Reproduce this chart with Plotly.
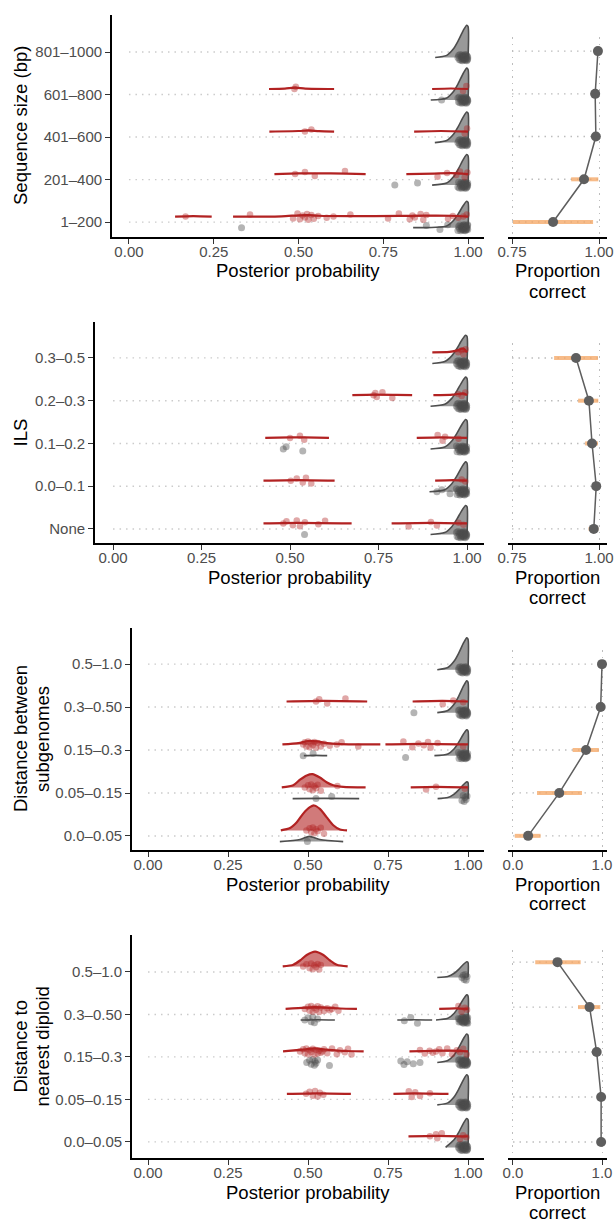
import plotly.graph_objects as go

W, H = 615, 1222

# ------------------------------------------------------------------ data
seq_cats = ["1–200", "201–400", "401–600", "601–800", "801–1000"]
ils_cats = ["None", "0.0–0.1", "0.1–0.2", "0.2–0.3", "0.3–0.5"]
sub_cats = ["0.0–0.05", "0.05–0.15", "0.15–0.3", "0.3–0.50", "0.5–1.0"]
dip_cats = ["0.0–0.05", "0.05–0.15", "0.15–0.3", "0.3–0.50", "0.5–1.0"]

# proportion correct (bottom category first)
seq_prop = [0.868, 0.957, 0.991, 0.989, 0.997]
seq_lo = [0.753, 0.920, 0.986, 0.982, 0.995]
seq_hi = [0.983, 0.998, 0.996, 0.997, 0.999]

ils_prop = [0.985, 0.992, 0.980, 0.971, 0.934]
ils_lo = [0.970, 0.988, 0.960, 0.940, 0.871]
ils_hi = [0.998, 0.996, 0.997, 0.998, 0.997]

sub_prop = [0.17, 0.52, 0.82, 0.985, 1.0]
sub_lo = [0.02, 0.27, 0.67, 0.975, 0.995]
sub_hi = [0.31, 0.775, 0.965, 0.995, 1.0]

dip_prop = [0.99, 0.99, 0.94, 0.86, 0.50]
dip_lo = [0.985, 0.985, 0.92, 0.73, 0.25]
dip_hi = [0.995, 0.995, 0.97, 0.98, 0.76]

# typical shape of the grey density piled up against 1.0 (normalised height)
tail_x = [0.937, 0.957, 0.971, 0.986, 0.996, 1.0, 1.0]
tail_h = [0.067, 0.27, 0.52, 0.84, 1.0, 0.96, 0.0]

# dense cluster of grey posterior values close to 1
near_one = [0.970, 0.972, 0.974, 0.976, 0.978, 0.980, 0.981, 0.982, 0.983, 0.984,
            0.985, 0.986, 0.987, 0.988, 0.989, 0.990, 0.991, 0.992, 0.993, 0.994,
            0.995, 0.996, 0.997, 0.998, 0.999, 0.999]
few_near_one = [0.981, 0.985, 0.988, 0.991, 0.994, 0.997]

# grey tail density per category: (start, peak height)
seq_tails = {5: (0.903, 0.76), 4: (0.890, 0.75), 3: (0.902, 0.72), 2: (0.894, 0.72), 1: (0.838, 0.62)}
ils_tails = {5: (0.902, 0.66), 4: (0.897, 0.68), 3: (0.897, 0.69), 2: (0.894, 0.70), 1: (0.897, 0.68)}
sub_tails = {5: (0.904, 0.74), 4: (0.904, 0.74), 3: (0.895, 0.60), 2: (0.905, 0.39)}
dip_tails = {5: (0.904, 0.37), 4: (0.900, 0.59), 3: (0.904, 0.67), 2: (0.904, 0.71), 1: (0.930, 0.68)}

# other density ridges: (category, group, x, height)
seq_ridges = [
    (4, "r", [0.413, 0.46, 0.49, 0.52, 0.605], [0, 0.01, 0.03, 0.01, 0]),
    (4, "r", [0.894, 0.95, 1.0], [0, 0.012, 0]),
    (3, "r", [0.414, 0.50, 0.53, 0.56, 0.605], [0, 0.012, 0.025, 0.01, 0]),
    (3, "r", [0.841, 0.92, 1.0], [0, 0.012, 0]),
    (2, "r", [0.429, 0.50, 0.55, 0.64, 0.698], [0, 0.015, 0.018, 0.01, 0]),
    (2, "r", [0.818, 0.90, 0.95, 1.0], [0, 0.012, 0.02, 0]),
    (1, "r", [0.136, 0.19, 0.244], [0, 0.012, 0]),
    (1, "r", [0.307, 0.45, 0.50, 0.53, 0.56, 0.65, 0.80, 0.87, 0.95, 1.0],
     [0, 0.006, 0.03, 0.035, 0.02, 0.01, 0.015, 0.022, 0.02, 0]),
]
ils_ridges = [
    (5, "r", [0.902, 0.95, 0.97, 0.99, 1.0], [0, 0.01, 0.04, 0.09, 0]),
    (4, "r", [0.676, 0.74, 0.80, 0.845], [0, 0.012, 0.006, 0]),
    (4, "r", [0.905, 0.96, 0.99, 1.0], [0, 0.012, 0.04, 0]),
    (3, "r", [0.430, 0.50, 0.54, 0.610], [0, 0.012, 0.012, 0]),
    (3, "r", [0.858, 0.93, 1.0], [0, 0.012, 0]),
    (2, "r", [0.425, 0.52, 0.626], [0, 0.012, 0]),
    (2, "r", [0.910, 0.96, 1.0], [0, 0.012, 0]),
    (1, "r", [0.425, 0.52, 0.674], [0, 0.012, 0]),
    (1, "r", [0.787, 0.90, 1.0], [0, 0.012, 0]),
]
sub_ridges = [
    (4, "r", [0.433, 0.55, 0.685], [0, 0.012, 0]),
    (4, "r", [0.827, 0.92, 1.0], [0, 0.012, 0]),
    (3, "g", [0.487, 0.52, 0.560], [0, 0.006, 0]),
    (3, "r", [0.420, 0.47, 0.50, 0.53, 0.56, 0.60, 0.726], [0, 0.03, 0.08, 0.07, 0.03, 0.01, 0]),
    (3, "r", [0.742, 0.85, 1.0], [0, 0.012, 0]),
    (2, "g", [0.452, 0.55, 0.660], [0, 0.006, 0]),
    (2, "r", [0.418, 0.454, 0.475, 0.496, 0.514, 0.537, 0.558, 0.579, 0.61, 0.68],
     [0, 0.05, 0.18, 0.28, 0.31, 0.23, 0.12, 0.05, 0.015, 0]),
    (2, "r", [0.821, 0.90, 1.0], [0, 0.012, 0]),
    (1, "g", [0.412, 0.475, 0.504, 0.537, 0.610], [0, 0.05, 0.12, 0.05, 0]),
    (1, "r", [0.415, 0.444, 0.465, 0.485, 0.506, 0.519, 0.537, 0.558, 0.579, 0.60, 0.622],
     [0, 0.055, 0.19, 0.39, 0.54, 0.58, 0.50, 0.31, 0.12, 0.02, 0]),
]
dip_ridges = [
    (5, "r", [0.421, 0.454, 0.475, 0.496, 0.522, 0.548, 0.569, 0.59, 0.624],
     [0, 0.04, 0.14, 0.27, 0.35, 0.27, 0.14, 0.04, 0]),
    (4, "g", [0.477, 0.53, 0.584], [0, 0.006, 0]),
    (4, "g", [0.779, 0.83, 0.888], [0, 0.006, 0]),
    (4, "r", [0.430, 0.49, 0.52, 0.56, 0.60, 0.653], [0, 0.03, 0.04, 0.03, 0.01, 0]),
    (4, "r", [0.910, 0.96, 1.0], [0, 0.012, 0]),
    (3, "r", [0.422, 0.48, 0.52, 0.56, 0.60, 0.674], [0, 0.04, 0.07, 0.04, 0.015, 0]),
    (3, "r", [0.817, 0.90, 0.95, 1.0], [0, 0.015, 0.02, 0]),
    (2, "r", [0.434, 0.53, 0.634], [0, 0.012, 0]),
    (2, "r", [0.767, 0.83, 0.939], [0, 0.012, 0]),
    (1, "r", [0.814, 0.90, 1.0], [0, 0.012, 0]),
]

# observed posterior probabilities (points)
seq_red = {
    4: [0.488, 0.492, 0.985, 0.995],
    3: [0.519, 0.538, 0.99, 0.997],
    2: [0.49, 0.519, 0.548, 0.637, 0.91, 0.938, 0.965, 0.976, 0.99, 0.998],
    1: [0.167, 0.357, 0.484, 0.497, 0.504, 0.512, 0.519, 0.525, 0.529, 0.538, 0.545,
        0.558, 0.583, 0.603, 0.653, 0.764, 0.796, 0.828, 0.836, 0.843, 0.86, 0.868,
        0.877, 0.941, 0.955, 0.971, 0.986, 0.996],
}
seq_grey = {5: near_one, 4: [0.922] + near_one, 3: near_one,
            2: [0.784, 0.851] + near_one, 1: [0.332, 0.877, 0.917, 0.94] + near_one}

ils_red = {
    5: [0.975, 0.985, 0.99, 0.996],
    4: [0.736, 0.741, 0.745, 0.761, 0.789, 0.975, 0.985, 0.995],
    3: [0.50, 0.528, 0.54, 0.917, 0.931, 0.938, 0.976],
    2: [0.502, 0.519, 0.536, 0.545, 0.56, 0.985, 0.995],
    1: [0.481, 0.49, 0.508, 0.519, 0.528, 0.542, 0.58, 0.599, 0.835, 0.898, 0.915, 0.976, 0.99],
}
ils_grey = {5: near_one, 4: near_one, 3: [0.481, 0.489, 0.536] + near_one,
            2: [0.915, 0.929, 0.952] + near_one, 1: [0.541] + near_one}

sub_red = {
    4: [0.525, 0.535, 0.56, 0.617, 0.921, 0.954, 0.985],
    3: [0.485, 0.49, 0.495, 0.5, 0.505, 0.51, 0.515, 0.52, 0.525, 0.53, 0.54, 0.55,
        0.568, 0.59, 0.605, 0.657, 0.798, 0.826, 0.845, 0.862, 0.875, 0.883, 0.905, 0.985],
    2: [0.49, 0.5, 0.505, 0.51, 0.515, 0.52, 0.525, 0.53, 0.54, 0.592, 0.869, 0.9, 0.99],
    1: [0.495, 0.505, 0.51, 0.515, 0.52, 0.525, 0.53, 0.54, 0.55],
}
sub_grey = {5: near_one, 4: [0.831] + near_one, 3: [0.485, 0.516, 0.805] + near_one,
            2: [0.525, 0.574] + few_near_one, 1: [0.498]}

dip_red = {
    5: [0.485, 0.495, 0.505, 0.51, 0.515, 0.52, 0.525, 0.53, 0.535, 0.54],
    4: [0.49, 0.5, 0.505, 0.51, 0.515, 0.52, 0.525, 0.53, 0.535, 0.54, 0.55, 0.56,
        0.568, 0.575, 0.585, 0.595, 0.97, 0.98, 0.99, 0.997],
    3: [0.475, 0.485, 0.49, 0.495, 0.5, 0.505, 0.51, 0.515, 0.52, 0.525, 0.53, 0.535,
        0.54, 0.545, 0.55, 0.56, 0.575, 0.59, 0.6, 0.615, 0.625, 0.636, 0.85, 0.865,
        0.88, 0.89, 0.9, 0.91, 0.92, 0.935, 0.95, 0.965, 0.975, 0.985, 0.996],
    2: [0.494, 0.505, 0.515, 0.522, 0.53, 0.537, 0.548, 0.815, 0.824, 0.835, 0.85, 0.881],
    1: [0.881, 0.9, 0.904, 0.918, 0.975, 0.985, 0.995],
}
dip_grey = {5: few_near_one,
            4: [0.49, 0.5, 0.51, 0.515, 0.52, 0.53, 0.801, 0.821, 0.842] + near_one,
            3: [0.496, 0.505, 0.51, 0.515, 0.52, 0.522, 0.525, 0.53, 0.567,
                0.79, 0.8, 0.81, 0.829, 0.85] + near_one,
            2: near_one, 1: near_one}

# ------------------------------------------------------------------ style
RED = "#B22222"
RED_FILL = "rgba(178,34,34,0.6)"
RED_PT = "rgba(178,34,34,0.40)"
GREY_LINE = "#4D4D4D"
GREY_FILL = "#999999"
GREY_PT = "rgba(77,77,77,0.42)"
ORANGE = "rgba(244,164,96,0.75)"
PT_DARK = "#5E5E5E"
FONT = "Liberation Sans, Arial, sans-serif"
JIT = [0.0, 0.05, -0.045, 0.07, -0.065, 0.025, -0.02, 0.06, -0.075, 0.035, -0.05, 0.015, -0.03]
RED_OFF, GREY_OFF = 0.13, -0.13

panels = [
    dict(cats=seq_cats, ridges=seq_ridges, tails=seq_tails, red=seq_red, grey=seq_grey,
         prop=seq_prop, lo=seq_lo, hi=seq_hi, ytitle=["Sequence size (bp)"],
         L=(112, 484, 15, 237), R=(508, 607, 37, 237),
         lx=[-0.05, 1.047], ly=[0.65, 5.87], rx=[0.7385, 1.023], ry=[0.65, 5.33],
         rt=[0.75, 1.0], rtt=["0.75", "1.00"]),
    dict(cats=ils_cats, ridges=ils_ridges, tails=ils_tails, red=ils_red, grey=ils_grey,
         prop=ils_prop, lo=ils_lo, hi=ils_hi, ytitle=["ILS"],
         L=(95, 484, 322, 543), R=(508, 607, 343, 543),
         lx=[-0.051, 1.048], ly=[0.672, 5.84], rx=[0.7385, 1.023], ry=[0.67, 5.35],
         rt=[0.75, 1.0], rtt=["0.75", "1.00"]),
    dict(cats=sub_cats, ridges=sub_ridges, tails=sub_tails, red=sub_red, grey=sub_grey,
         prop=sub_prop, lo=sub_lo, hi=sub_hi, ytitle=["Distance between", "subgenomes"],
         L=(132, 484, 628, 850), R=(508, 607, 650, 850),
         lx=[-0.05, 1.05], ly=[0.674, 5.84], rx=[-0.056, 1.056], ry=[0.67, 5.33],
         rt=[0.0, 1.0], rtt=["0.0", "1.0"]),
    dict(cats=dip_cats, ridges=dip_ridges, tails=dip_tails, red=dip_red, grey=dip_grey,
         prop=dip_prop, lo=dip_lo, hi=dip_hi, ytitle=["Distance to", "nearest diploid"],
         L=(132, 484, 935, 1158), R=(508, 607, 950, 1158),
         lx=[-0.05, 1.05], ly=[0.62, 5.87], rx=[-0.056, 1.056], ry=[0.644, 5.27],
         rt=[0.0, 1.0], rtt=["0.0", "1.0"]),
]

fig = go.Figure()
layout = {}
annotations = []


def ax_names(i):
    s = "" if i == 1 else str(i)
    return "x" + s, "y" + s, "xaxis" + s, "yaxis" + s


def add_ridge(xs, hs, base, kind, xa, ya):
    fig.add_trace(go.Scatter(x=[xs[0], xs[-1]], y=[base, base], xaxis=xa, yaxis=ya,
                             mode="lines", line=dict(width=0, color="rgba(0,0,0,0)"),
                             hoverinfo="skip", showlegend=False))
    if kind == "r":
        col, fcol, w = RED, RED_FILL, 2.2
    else:
        col, fcol, w = GREY_LINE, GREY_FILL, 1.6
    fig.add_trace(go.Scatter(x=xs, y=[base + h for h in hs], xaxis=xa, yaxis=ya,
                             mode="lines", fill="tonexty", fillcolor=fcol,
                             line=dict(color=col, width=w, shape="spline", smoothing=0.7),
                             hoverinfo="skip", showlegend=False))


def add_points(pts, off, color, xa, ya, size=6.5):
    xs, ys = [], []
    for cat, vals in pts.items():
        for i, v in enumerate(vals):
            xs.append(v)
            ys.append(cat + off + JIT[i % len(JIT)])
    fig.add_trace(go.Scatter(x=xs, y=ys, xaxis=xa, yaxis=ya, mode="markers",
                             marker=dict(size=size, color=color, line=dict(width=0)),
                             hoverinfo="skip", showlegend=False))


def px_x(px):
    return px / W


def px_y(py):
    return 1 - py / H


for p, P in enumerate(panels):
    xa, ya, xk, yk = ax_names(2 * p + 1)
    rxa, rya, rxk, ryk = ax_names(2 * p + 2)
    cats = list(range(1, len(P["cats"]) + 1))

    # --- left panel: dotted guide lines from 0 to 1
    gx, gy = [], []
    for c in cats:
        gx += [0, 1, None]
        gy += [c, c, None]
    fig.add_trace(go.Scatter(x=gx, y=gy, xaxis=xa, yaxis=ya, mode="lines",
                             line=dict(color="#CBCBCB", width=1.4, dash="1.5px,5px"),
                             hoverinfo="skip", showlegend=False))
    for c, (start, peak) in P["tails"].items():
        add_ridge([start] + tail_x, [0] + [peak * v for v in tail_h], c + GREY_OFF, "g", xa, ya)
    for (c, kind, xs, hs) in P["ridges"]:
        if kind == "g":
            add_ridge(xs, hs, c + GREY_OFF, "g", xa, ya)
    add_points(P["grey"], GREY_OFF, GREY_PT, xa, ya, size=7)
    for (c, kind, xs, hs) in P["ridges"]:
        if kind == "r":
            add_ridge(xs, hs, c + RED_OFF, "r", xa, ya)
    add_points(P["red"], RED_OFF, RED_PT, xa, ya)

    # --- right panel
    hx, hy = [], []
    for c in cats:
        hx += [P["rt"][0], P["rt"][-1], None]
        hy += [c, c, None]
    fig.add_trace(go.Scatter(x=hx, y=hy, xaxis=rxa, yaxis=rya, mode="lines",
                             line=dict(color="#BDBDBD", width=1.4, dash="1.5px,5px"),
                             hoverinfo="skip", showlegend=False))
    fig.add_trace(go.Scatter(
        x=P["prop"], y=cats, xaxis=rxa, yaxis=rya, mode="lines+markers",
        line=dict(color=PT_DARK, width=1.5),
        marker=dict(size=10, color=PT_DARK),
        error_x=dict(type="data", symmetric=False,
                     array=[h - v for h, v in zip(P["hi"], P["prop"])],
                     arrayminus=[v - l for v, l in zip(P["prop"], P["lo"])],
                     color=ORANGE, thickness=4, width=0),
        hoverinfo="skip", showlegend=False))

    L0, L1, T, B = P["L"]
    R0, R1, RT, RB = P["R"]
    tickfont = dict(family=FONT, size=15, color="#4D4D4D")
    common = dict(automargin=False, zeroline=False)
    layout[xk] = dict(domain=[px_x(L0), px_x(L1)], range=P["lx"], anchor=ya,
                      tickvals=[0, 0.25, 0.5, 0.75, 1.0],
                      ticktext=["0.00", "0.25", "0.50", "0.75", "1.00"],
                      showline=True, linecolor="black", linewidth=1.8,
                      ticks="outside", ticklen=5, tickwidth=1.2, tickcolor="#333333",
                      ticklabelstandoff=-5,
                      tickfont=tickfont, showgrid=False, **common)
    layout[yk] = dict(domain=[px_y(B), px_y(T)], range=P["ly"], anchor=xa,
                      tickvals=cats, ticktext=P["cats"],
                      showline=True, linecolor="black", linewidth=1.8,
                      ticks="outside", ticklen=5, tickwidth=1.2, tickcolor="#333333",
                      tickfont=tickfont, showgrid=False, **common)
    layout[rxk] = dict(domain=[px_x(R0), px_x(R1)], range=P["rx"], anchor=rya,
                       tickvals=P["rt"], ticktext=P["rtt"],
                       showline=True, linecolor="black", linewidth=1.8,
                       ticks="outside", ticklen=5, tickwidth=1.2, tickcolor="#333333",
                       ticklabelstandoff=-5,
                       tickfont=tickfont, showgrid=True, gridcolor="#BDBDBD",
                       gridwidth=1.4, griddash="1.5px,5px", **common)
    layout[ryk] = dict(domain=[px_y(RB), px_y(RT)], range=P["ry"], anchor=rxa,
                       tickvals=cats, showticklabels=False, ticks="",
                       showline=False, showgrid=False, **common)

    tfont = dict(family=FONT, size=18.5, color="black")
    annotations.append(dict(text="Posterior probability", x=px_x((L0 + L1) / 2),
                            y=px_y(B + 34), xref="paper", yref="paper",
                            xanchor="center", yanchor="middle", showarrow=False, font=tfont))
    annotations.append(dict(text="Proportion", x=px_x(557), y=px_y(B + 34),
                            xref="paper", yref="paper", xanchor="center", yanchor="middle",
                            showarrow=False, font=tfont))
    annotations.append(dict(text="correct", x=px_x(557), y=px_y(B + 54),
                            xref="paper", yref="paper", xanchor="center", yanchor="middle",
                            showarrow=False, font=tfont))
    lines = P["ytitle"]
    xs_t = [20] if len(lines) == 1 else [20, 42]
    for t, xx in zip(lines, xs_t):
        annotations.append(dict(text=t, x=px_x(xx), y=px_y((T + B) / 2), textangle=-90,
                                xref="paper", yref="paper", xanchor="center",
                                yanchor="middle", showarrow=False, font=tfont))

fig.update_layout(width=W, height=H, margin=dict(l=0, r=0, t=0, b=0, pad=0),
                  paper_bgcolor="white", plot_bgcolor="white",
                  font=dict(family=FONT), showlegend=False,
                  annotations=annotations, **layout)

fig.write_html("out.html", config={"displayModeBar": False},
               post_script="document.body.style.margin='0px';document.body.style.padding='0px';")
